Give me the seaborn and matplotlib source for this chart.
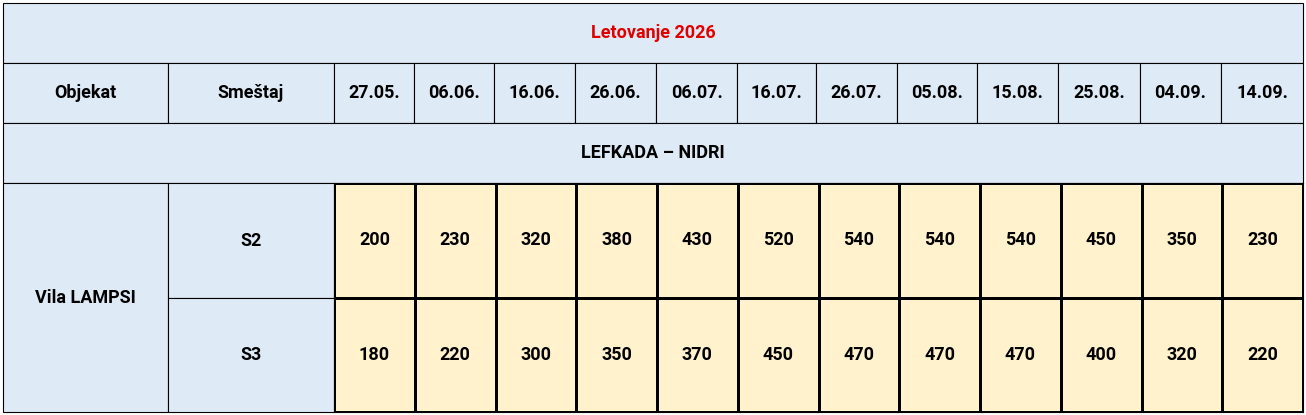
import matplotlib
matplotlib.use("Agg")
import matplotlib.pyplot as plt
import seaborn as sns
import numpy as np
from matplotlib.colors import ListedColormap
from matplotlib.patches import Rectangle

title = "Letovanje 2026"
dates = ["27.05.", "06.06.", "16.06.", "26.06.", "06.07.", "16.07.", "26.07.",
         "05.08.", "15.08.", "25.08.", "04.09.", "14.09."]
region = "LEFKADA – NIDRI"
objekat = "Vila LAMPSI"
smestaj = ["S2", "S3"]
s2 = [200, 230, 320, 380, 430, 520, 540, 540, 540, 450, 350, 230]
s3 = [180, 220, 300, 350, 370, 450, 470, 470, 470, 400, 320, 220]

W, H = 1306, 415
BLUE = "#deeaf6"
YEL = "#fff2cc"
font = ["Liberation Sans Narrow", "Roboto", "DejaVu Sans"]

fig = plt.figure(figsize=(W/100, H/100), dpi=100)
ax = fig.add_axes([0, 0, 1, 1])
ax.set_xlim(0, W); ax.set_ylim(H, 0); ax.axis("off")

xs = [3, 168, 334, 414, 494, 575, 656, 737, 816, 897, 977, 1058, 1140, 1221, 1303]
ys = [3, 63, 123, 183, 298, 412]

def cell(x0, y0, x1, y1, text="", color=BLUE, tc="black", size=13):
    ax.add_patch(Rectangle((x0, y0), x1-x0, y1-y0, facecolor=color, edgecolor="black", lw=0.8))
    if text:
        ax.text((x0+x1)/2, (y0+y1)/2, text, ha="center", va="center", color=tc,
                fontsize=size, fontweight="bold", family=font)

cell(xs[0], ys[0], xs[-1], ys[1], title, tc="#e00000")
cell(xs[0], ys[1], xs[1], ys[2], "Objekat")
cell(xs[1], ys[1], xs[2], ys[2], "Smeštaj")
for i, d in enumerate(dates):
    cell(xs[2+i], ys[1], xs[3+i], ys[2], d)
cell(xs[0], ys[2], xs[-1], ys[3], region)
cell(xs[0], ys[3], xs[1], ys[5], objekat)
cell(xs[1], ys[3], xs[2], ys[4], smestaj[0])
cell(xs[1], ys[4], xs[2], ys[5], smestaj[1])

# price grid via seaborn heatmap
hx = fig.add_axes([xs[2]/W, 1-ys[5]/H, (xs[-1]-xs[2])/W, (ys[5]-ys[3])/H])
vals = np.array([s2, s3])
sns.heatmap(vals, ax=hx, cmap=ListedColormap([YEL]), cbar=False, annot=True, fmt="d",
            linewidths=0.8, linecolor="black",
            annot_kws={"fontsize": 13, "fontweight": "bold", "family": font, "color": "black"})
hx.set_xticks([]); hx.set_yticks([])
for s in hx.spines.values():
    s.set_visible(True); s.set_color("black"); s.set_linewidth(0.8)

fig.savefig("out.png", dpi=100)
